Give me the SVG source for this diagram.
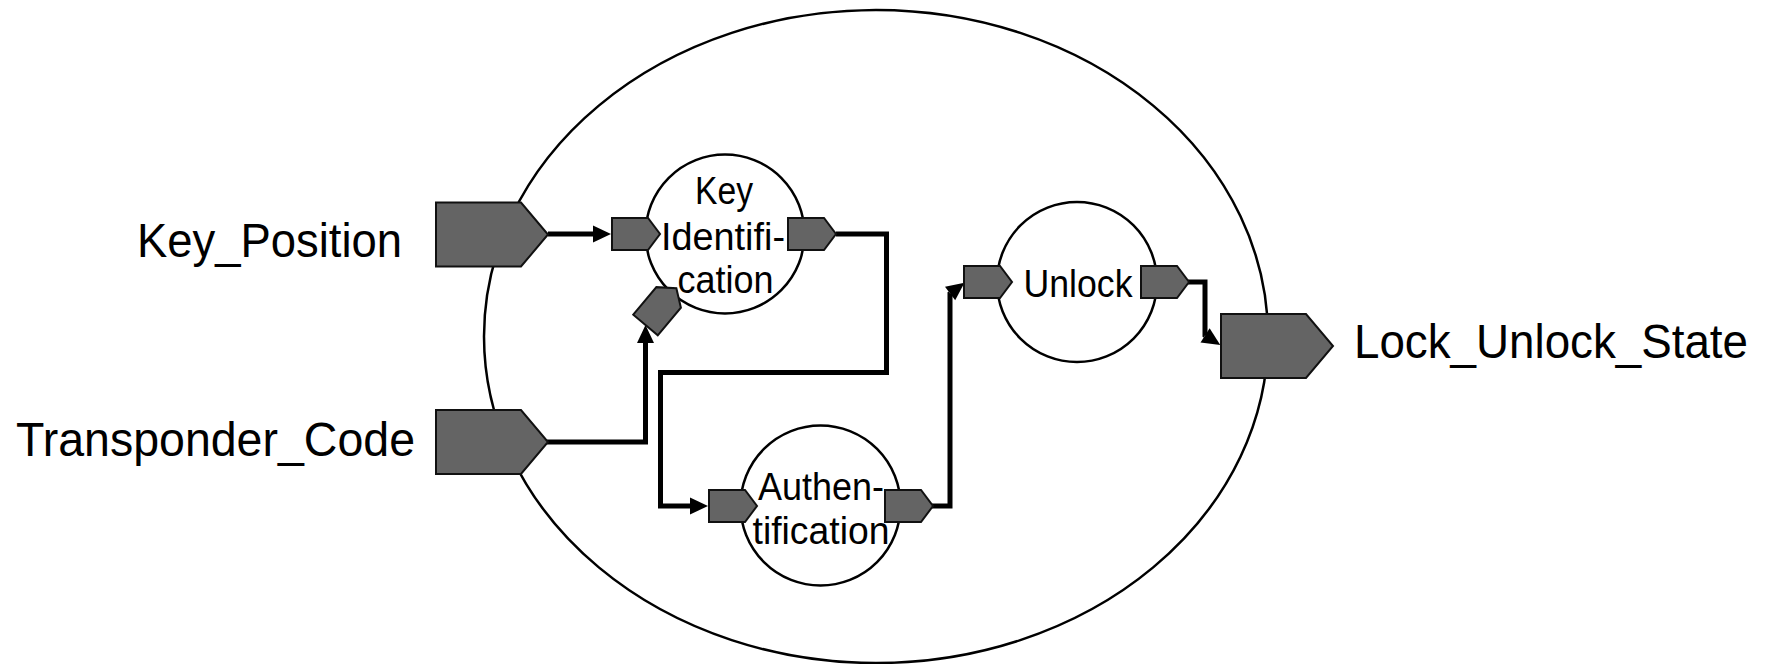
<svg xmlns="http://www.w3.org/2000/svg" width="1771" height="664" viewBox="0 0 1771 664">
<defs>
<style>
.boundary{fill:#fff;stroke:#000;stroke-width:2.5}
.proc{fill:#fff;stroke:#000;stroke-width:2.5}
.port{fill:#646464;stroke:#111;stroke-width:2;stroke-linejoin:miter}
.conn{fill:none;stroke:#000;stroke-width:5;stroke-linejoin:miter;marker-end:url(#arr)}
.big{font-family:"Liberation Sans",Arial,sans-serif;font-size:48px;fill:#000}
.lbl{font-family:"Liberation Sans",Arial,sans-serif;font-size:38px;fill:#000;text-anchor:middle}
</style>
<marker id="arr" markerUnits="userSpaceOnUse" markerWidth="20" markerHeight="18" refX="0" refY="8.5" orient="auto" overflow="visible">
<path d="M0,0 L18,8.5 L0,17 Z" fill="#000"/>
</marker>
<path id="sport" d="M0,-16 H36 L48,0 L36,16 H0 Z"/>
<path id="bport" d="M0,-32 H85 L112,0 L85,32 H0 Z"/>
</defs>
<rect width="1771" height="664" fill="#fff"/>
<g id="system">
<ellipse class="boundary" cx="876" cy="336.5" rx="392" ry="326.5"/>
</g>
<g id="connectors">
<path class="conn" d="M548,234 H593"/>
<path class="conn" d="M546,442 H645.5 V343"/>
<path class="conn" d="M836,234 H886.5 V372.5 H660.5 V506 H690"/>
<path class="conn" d="M932,506 H950 V293.5 l0.08,-0.06"/>
<path class="conn" d="M1188,282 H1205 V335.3 l0.085,0.054"/>
</g>
<g id="key_identification">
<circle class="proc" cx="725" cy="234" r="79.5"/>
<use href="#sport" class="port" x="612" y="234"/>
<use href="#sport" class="port" x="788" y="234"/>
<use href="#sport" class="port" transform="translate(645.5,325) rotate(-50)"/>
<text class="lbl" x="724" y="203.5" textLength="58" lengthAdjust="spacingAndGlyphs">Key</text>
<text class="lbl" x="723" y="249.5" textLength="124" lengthAdjust="spacingAndGlyphs">Identifi-</text>
<text class="lbl" x="725.5" y="293" textLength="96" lengthAdjust="spacingAndGlyphs">cation</text>
</g>
<g id="authentification">
<circle class="proc" cx="820.5" cy="505.5" r="80"/>
<use href="#sport" class="port" x="709" y="506"/>
<use href="#sport" class="port" x="885" y="506"/>
<text class="lbl" x="821" y="500" textLength="126" lengthAdjust="spacingAndGlyphs">Authen-</text>
<text class="lbl" x="821" y="543.5" textLength="137" lengthAdjust="spacingAndGlyphs">tification</text>
</g>
<g id="unlock">
<circle class="proc" cx="1077" cy="282" r="80"/>
<use href="#sport" class="port" x="964" y="282"/>
<use href="#sport" class="port" x="1141" y="282"/>
<text class="lbl" x="1078" y="296.7" textLength="109" lengthAdjust="spacingAndGlyphs">Unlock</text>
</g>
<g id="key_position">
<use href="#bport" class="port" x="436" y="234.5"/>
<text class="big" x="137" y="257" textLength="265" lengthAdjust="spacingAndGlyphs">Key_Position</text>
</g>
<g id="transponder_code">
<use href="#bport" class="port" x="436" y="442"/>
<text class="big" x="16" y="456" textLength="399" lengthAdjust="spacingAndGlyphs">Transponder_Code</text>
</g>
<g id="lock_unlock_state">
<use href="#bport" class="port" x="1221" y="346"/>
<text class="big" x="1354" y="358" textLength="394" lengthAdjust="spacingAndGlyphs">Lock_Unlock_State</text>
</g>
</svg>
